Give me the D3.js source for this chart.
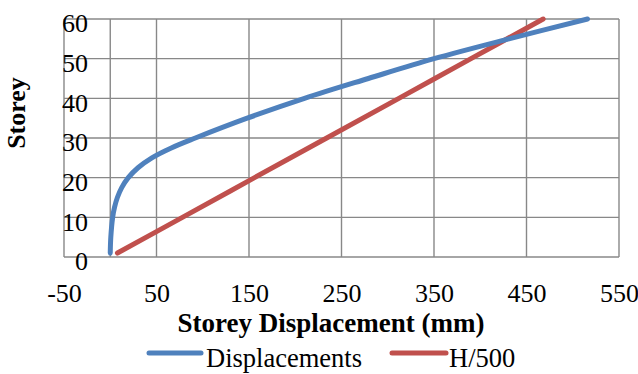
<!DOCTYPE html>
<html>
<head>
<meta charset="utf-8">
<script src="https://cdn.jsdelivr.net/npm/d3@7"></script>
<style>
  html, body { margin: 0; padding: 0; background: #fff; }
  svg { display: block; }
  text { font-family: "Liberation Serif", "Times New Roman", serif; fill: #000; }
</style>
</head>
<body>
<svg id="chart" width="638" height="374"></svg>
<script>
// ---- data ----
const dispStoreys = [1, 5, 10, 12.5, 15, 17.5, 20, 22.5, 25, 27.5, 30, 35, 40, 45, 50, 55, 60];
const dispValues  = [0, 0.6, 2.6, 4.6, 7.7, 12.4, 19.5, 30, 45, 66, 92, 148, 210, 279, 350, 431, 516];
const limitStoreys = [1, 10, 20, 30, 40, 50, 60];
const limitValues  = [7.8, 78, 156, 234, 312, 390, 468];
const xTicks = [-50, 50, 150, 250, 350, 450, 550];
const yTicks = [0, 10, 20, 30, 40, 50, 60];
const seriesNames = ["Displacements", "H/500"];
const seriesColors = ["#4F81BD", "#C0504D"];

// ---- layout ----
const svg = d3.select("#chart");
const pLeft = 64, pRight = 619, pTop = 19, pBottom = 257;
const x = d3.scaleLinear().domain([-50, 550]).range([pLeft, pRight]);
const y = d3.scaleLinear().domain([0, 60]).range([pBottom, pTop]);
const gridColor = "#888888";

// gridlines
const g = svg.append("g");
g.selectAll("line.vx").data(xTicks).enter().append("line")
  .attr("x1", d => x(d)).attr("x2", d => x(d))
  .attr("y1", pTop).attr("y2", pBottom)
  .attr("stroke", gridColor).attr("stroke-width", 1.4);
g.selectAll("line.hy").data(yTicks).enter().append("line")
  .attr("x1", pLeft).attr("x2", pRight)
  .attr("y1", d => y(d)).attr("y2", d => y(d))
  .attr("stroke", gridColor).attr("stroke-width", 1.4);
// vertical axis crossing at 0
g.append("line")
  .attr("x1", x(0)).attr("x2", x(0)).attr("y1", pTop).attr("y2", pBottom)
  .attr("stroke", gridColor).attr("stroke-width", 1.4);

// axis labels via d3 axes (lines hidden)
const fmt = d => String(d);
const xAxis = svg.append("g")
  .attr("transform", `translate(0,${pBottom})`)
  .attr("font-family", "Liberation Serif")
  .call(d3.axisBottom(x).tickValues(xTicks).tickFormat(fmt).tickSize(0).tickPadding(0));
xAxis.select(".domain").remove();
xAxis.selectAll("text")
  .attr("y", 45).attr("dy", null)
  .style("font-size", "26px").attr("fill", "#000");

const yAxis = svg.append("g")
  .attr("transform", `translate(88,0)`)
  .attr("font-family", "Liberation Serif")
  .call(d3.axisLeft(y).tickValues(yTicks).tickFormat(fmt).tickSize(0).tickPadding(0));
yAxis.select(".domain").remove();
yAxis.selectAll("text")
  .attr("x", 0).attr("dy", "0.42em")
  .style("font-size", "26px").attr("fill", "#000")
  .attr("text-anchor", "end")
  .attr("transform", "translate(0,2)");

// series
const line = d3.line()
  .x(d => x(d[1])).y(d => y(d[0]))
  .curve(d3.curveCatmullRom.alpha(0.5));
const dispData = dispStoreys.map((s, i) => [s, dispValues[i]]);
const limitData = limitStoreys.map((s, i) => [s, limitValues[i]]);

svg.append("path").datum(limitData)
  .attr("d", line).attr("fill", "none")
  .attr("stroke", seriesColors[1]).attr("stroke-width", 5)
  .attr("stroke-linecap", "round").attr("stroke-linejoin", "round");
svg.append("path").datum(dispData)
  .attr("d", line).attr("fill", "none")
  .attr("stroke", seriesColors[0]).attr("stroke-width", 5)
  .attr("stroke-linecap", "round").attr("stroke-linejoin", "round");

// titles
svg.append("text")
  .attr("x", 331).attr("y", 332)
  .attr("text-anchor", "middle")
  .style("font-size", "27px").style("font-weight", "bold")
  .text("Storey Displacement (mm)");
svg.append("text")
  .attr("transform", "translate(25,113) rotate(-90)")
  .attr("text-anchor", "middle")
  .style("font-size", "26px").style("font-weight", "bold")
  .text("Storey");

// legend
const legendItems = [
  { name: seriesNames[0], color: seriesColors[0], x1: 149, x2: 201, tx: 206 },
  { name: seriesNames[1], color: seriesColors[1], x1: 392, x2: 446, tx: 449 }
];
const lg = svg.append("g");
legendItems.forEach(it => {
  lg.append("line")
    .attr("x1", it.x1).attr("x2", it.x2).attr("y1", 353).attr("y2", 353)
    .attr("stroke", it.color).attr("stroke-width", 5).attr("stroke-linecap", "round");
  lg.append("text")
    .attr("x", it.tx).attr("y", 367)
    .style("font-size", "26.5px")
    .text(it.name);
});
</script>
</body>
</html>
